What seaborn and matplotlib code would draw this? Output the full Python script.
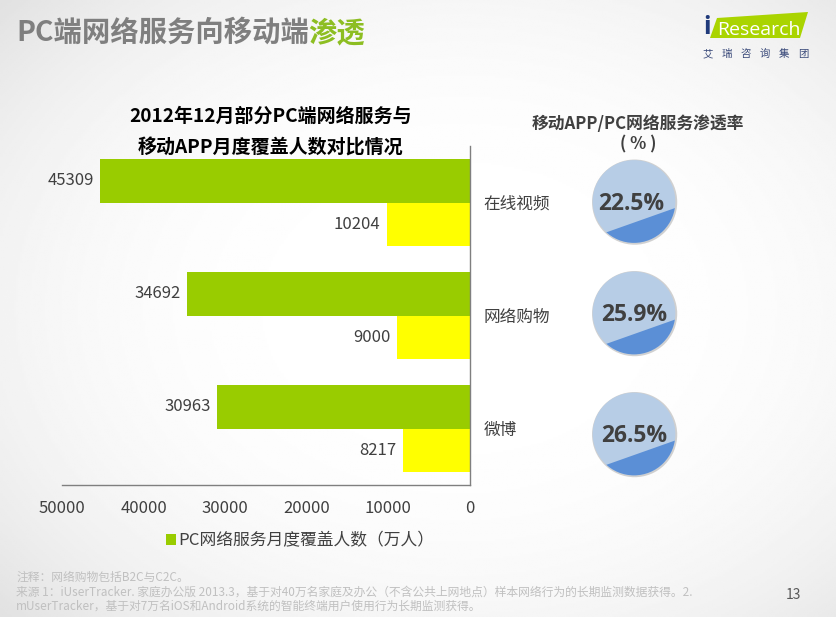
"""Slide chart: PC services vs mobile APP coverage, with penetration balls on the right."""
import numpy as np
import pandas as pd
import matplotlib
matplotlib.use("Agg")
import matplotlib.pyplot as plt
from matplotlib.patches import Circle, Polygon
import seaborn as sns

# ── Data ─────────────────────────────────────────────────────────────
CATEGORIES = ["在线视频", "网络购物", "微博"]
PC_USERS = [45309, 34692, 30963]
APP_USERS = [10204, 9000, 8217]
RATES = [22.5, 25.9, 26.5]
X_TICKS = [50000, 40000, 30000, 20000, 10000, 0]

PC_LABEL = "PC网络服务月度覆盖人数（万人）"
APP_LABEL = "移动APP月度覆盖人数（万人）"

NOTES = [
    "注释：网络购物包括B2C与C2C。",
    "来源 1：iUserTracker. 家庭办公版 2013.3，基于对40万名家庭及办公（不含公共上网地点）样本网络行为的长期监测数据获得。2.",
    "mUserTracker，基于对7万名iOS和Android系统的智能终端用户使用行为长期监测获得。",
]

# ── Style ────────────────────────────────────────────────────────────
W, H = 837, 617
GREEN = "#99CC00"
YELLOW = "#FFFF00"
TEXT = "#404040"

sns.set_theme(style="white")
plt.rcParams["font.family"] = ["Noto Sans CJK SC", "DejaVu Sans"]


def px_axes(fig, left, top, right, bottom, **kw):
    """Axes placed with pixel coordinates measured from the top-left."""
    return fig.add_axes([left / W, 1 - bottom / H, (right - left) / W, (bottom - top) / H], **kw)


def draw_background(fig):
    bg = px_axes(fig, 0, 0, W, H, zorder=0)
    yy, xx = np.mgrid[0:1:320j, 0:1:400j]
    dist = np.hypot((xx - 0.55) / 0.75, (yy - 0.5) / 0.75)
    bg.imshow(np.clip(1 - 0.12 * dist ** 3, 0, 1), cmap="gray", vmin=0, vmax=1,
              aspect="auto", extent=[0, W, H, 0])
    bg.axis("off")
    return bg


def draw_bars(fig):
    ax = px_axes(fig, 62, 146, 470, 485, zorder=2, facecolor="none")
    df = pd.DataFrame({
        "service": CATEGORIES * 2,
        "users": PC_USERS + APP_USERS,
        "series": [PC_LABEL] * 3 + [APP_LABEL] * 3,
    })
    sns.barplot(data=df, y="service", x="users", hue="series", orient="h", ax=ax,
                palette={PC_LABEL: GREEN, APP_LABEL: YELLOW}, width=0.77, saturation=1,
                gap=0, linewidth=0, legend=True)
    # x axis runs right to left, so the labels are pushed out by hand
    for container in ax.containers:
        for label in ax.bar_label(container, fmt="%d", padding=-4.5, fontsize=12, color=TEXT):
            label.set_ha("right")

    ax.set_xlim(50000, 0)
    ax.set_xticks(X_TICKS)
    ax.set_xlabel("")
    ax.set_ylabel("")
    ax.yaxis.tick_right()
    ax.tick_params(axis="y", length=0, pad=9.5, labelsize=12, labelcolor=TEXT)
    ax.tick_params(axis="x", length=0, pad=10.5, labelsize=12, labelcolor=TEXT)
    for side in ("top", "left"):
        ax.spines[side].set_visible(False)
    for side in ("right", "bottom"):
        ax.spines[side].set_color("#7F7F7F")
        ax.spines[side].set_linewidth(1)

    # only the PC series is listed in the original legend
    handles, labels = ax.get_legend_handles_labels()
    ax.legend(handles[:1], labels[:1], loc="center", bbox_to_anchor=(300 / W, 1 - 541 / H),
              bbox_transform=fig.transFigure, frameon=False, fontsize=12.1, handlelength=0.6,
              handleheight=0.6, handletextpad=0.1, labelcolor=TEXT, borderpad=0)
    return ax


def draw_ball(fig, cy, rate, text_dx=0.0, cx=634, r=41.5):
    ax = px_axes(fig, cx - r - 4, cy - r - 4, cx + r + 4, cy + r + 4, zorder=2)
    ax.set_xlim(-1.1, 1.1)
    ax.set_ylim(-1.1, 1.1)
    ax.set_aspect("equal")
    ax.axis("off")
    ax.add_patch(Circle((0.015, -0.015), 1.03, color="#9A9A9A", alpha=0.45, lw=0))
    ball = Circle((0, 0), 1, color="#B7CDE6", lw=0)
    ax.add_patch(ball)

    # the darker part is a decoration: same tilted chord on every ball, not scaled to the rate
    level = 0.48
    tilt = np.radians(19.5)
    normal = np.array([np.sin(tilt), -np.cos(tilt)])
    along = np.array([np.cos(tilt), np.sin(tilt)])
    corners = [normal * level + along * s for s in (-2, 2)] + [normal * 3 + along * s for s in (2, -2)]
    fill = Polygon(corners, color="#5B8FD6", lw=0)
    ax.add_patch(fill)
    fill.set_clip_path(ball)

    ax.text(text_dx, -0.06, f"{rate}%", ha="center", va="center", fontsize=16.5, fontweight="bold",
            color=TEXT, family=["Open Sans", "DejaVu Sans"])


def draw_logo(ov):
    ov.add_patch(Polygon([(717, 18), (808, 12), (800, 38), (710, 38)], color="#AAD400", lw=0, zorder=3))
    ov.text(707, 28, "i", fontsize=18, color="#1F3A7A", fontweight="bold", ha="center", va="center",
            family="Open Sans", zorder=4)
    ov.text(717, 30, "Research", fontsize=14, color="white", ha="left", va="center",
            family="Open Sans", zorder=4)
    for i, ch in enumerate("艾瑞咨询集团"):
        ov.text(708 + i * 19, 54, ch, fontsize=7.5, color="#3A4A7A", ha="center", va="center", zorder=4)


def draw_text(ov):
    ov.text(16, 33, "PC端网络服务向移动端", fontsize=20.4, fontweight="bold", color="#7F7F7F", va="center")
    ov.text(308, 33, "渗透", fontsize=20.4, fontweight="bold", color="#8DBE22", va="center")

    ov.text(270.5, 116, "2012年12月部分PC端网络服务与", fontsize=13.7, fontweight="bold", color="black",
            ha="center", va="center")
    ov.text(270, 148, "移动APP月度覆盖人数对比情况", fontsize=13.7, fontweight="bold", color="black",
            ha="center", va="center", zorder=5)
    ov.text(638, 124, "移动APP/PC网络服务渗透率", fontsize=12.1, fontweight="bold", color=TEXT,
            ha="center", va="center")
    ov.text(638, 144, "( % )", fontsize=12.1, fontweight="bold", color=TEXT, ha="center", va="center")

    for y, line in zip((577.5, 592, 606), NOTES):
        ov.text(16, y, line, fontsize=8.5, color="#C0C0C0", va="center")
    ov.text(793, 595, "13", fontsize=10, color="#595959", ha="center", va="center")


def main():
    fig = plt.figure(figsize=(W / 100, H / 100), dpi=100)
    draw_background(fig)
    draw_bars(fig)
    for cy, rate, dx in zip((201.5, 313, 434), RATES, (-0.07, 0, 0)):
        draw_ball(fig, cy, rate, dx)

    ov = px_axes(fig, 0, 0, W, H, zorder=5, facecolor="none")
    ov.set_xlim(0, W)
    ov.set_ylim(H, 0)
    ov.axis("off")
    draw_logo(ov)
    draw_text(ov)

    fig.savefig("out.png", dpi=100)


if __name__ == "__main__":
    main()
